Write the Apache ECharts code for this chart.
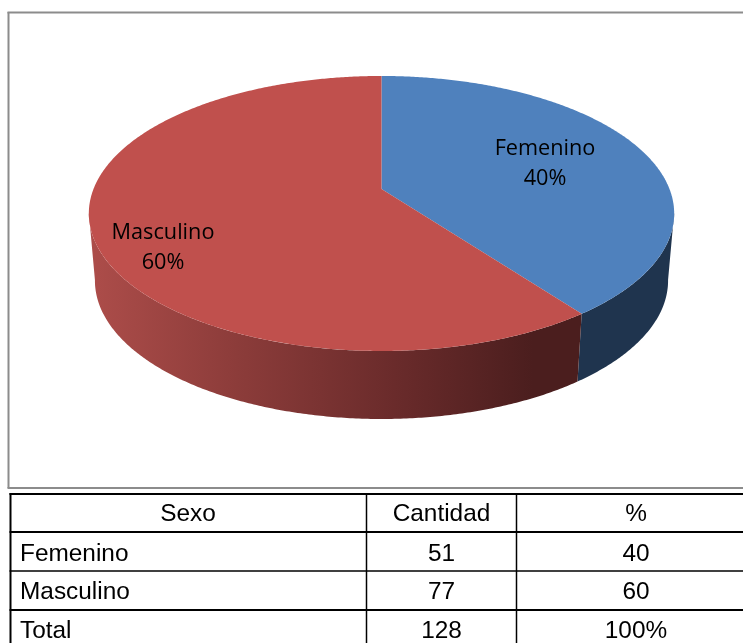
<!DOCTYPE html>
<html>
<head>
<meta charset="utf-8">
<style>html,body{margin:0;padding:0;background:#fff}#c{width:743px;height:643px}</style>
<script src="https://cdn.jsdelivr.net/npm/echarts@6/dist/echarts.min.js"></script>
</head>
<body>
<div id="c"></div>
<script>
const categories = ['Femenino', 'Masculino'];
const values = [51, 77];
const percents = [40, 60];
const total = '128';
const totalPct = '100%';
const headers = ['Sexo', 'Cantidad', '%'];

const topColors = ['#4F81BD', '#C0504D'];
const labelPos = [[545, 164], [163, 248]];

const chart = echarts.init(document.getElementById('c'), null, {renderer: 'canvas'});
const sum = values.reduce((a, b) => a + b, 0);
const D2R = Math.PI / 180;
const CX = 381.5, PERSP = 0.178;
const TOP = {R: 288, A: -99.5, B: 189};
const BOT = {R: 282, A: -88.4, B: 256};

function proj(f, deg) {
  const x = Math.sin(deg * D2R), y = Math.cos(deg * D2R);
  const d = 1 + PERSP * y;
  return [CX + f.R * x / d, (f.A * y + f.B) / d];
}
function arc(f, a, b) {
  const pts = [], n = Math.max(2, Math.ceil(Math.abs(b - a) * 2));
  for (let i = 0; i <= n; i++) pts.push(proj(f, a + (b - a) * i / n));
  return pts;
}
function range(i) {
  let s = 0;
  for (let k = 0; k < i; k++) s += values[k];
  return [s / sum * 360, (s + values[i]) / sum * 360];
}
const sideFill = [
  '#1F344E',
  {type: 'linear', global: true, x: 89, y: 0, x2: 582, y2: 0, colorStops: [
    {offset: 0, color: '#AD4D4A'},
    {offset: 0.3, color: '#8C3C3A'},
    {offset: 0.62, color: '#6A2B2B'},
    {offset: 0.9, color: '#4B1E1E'},
    {offset: 1, color: '#4B1E1E'}
  ]}
];

const seriesData = categories.map((c, i) => ({name: c, value: values[i]}));

const sideSeries = {
  type: 'custom', coordinateSystem: 'none', z: 2, silent: true, data: seriesData,
  renderItem(params) {
    const i = params.dataIndex, r = range(i);
    const a = Math.max(r[0], 100), b = Math.min(r[1], 260);
    const pts = arc(TOP, a, b).concat(arc(BOT, b, a));
    return {type: 'polygon', shape: {points: pts}, style: {fill: sideFill[i], stroke: null}};
  }
};
const topSeries = {
  type: 'custom', coordinateSystem: 'none', z: 3, silent: true, data: seriesData,
  renderItem(params) {
    const i = params.dataIndex, r = range(i);
    const pts = [[CX, TOP.B]].concat(arc(TOP, r[0], r[1]));
    return {
      type: 'group',
      children: [
        {type: 'polygon', shape: {points: pts}, style: {fill: topColors[i], stroke: null}},
        {type: 'text', z2: 10, style: {
          x: labelPos[i][0], y: labelPos[i][1],
          text: categories[i] + '\n' + percents[i] + '%',
          font: '21.7px "Open Sans"', lineHeight: 30,
          fill: '#000', align: 'center', verticalAlign: 'middle'
        }}
      ]
    };
  }
};

// frame + table
const G = [];
const line = (x1, y1, x2, y2, w, col) => G.push({type: 'line', z: 5, shape: {x1, y1, x2, y2}, style: {stroke: col || '#000', lineWidth: w}, silent: true});
const txt = (x, y, t, al) => G.push({type: 'text', z: 6, silent: true, style: {x, y, text: t, font: '24.4px "Liberation Sans"', fill: '#000', align: al, verticalAlign: 'middle'}});

const frameCol = '#8C8C8C';
line(8.5, 12, 8.5, 488, 2, frameCol);
line(7.5, 12.5, 743, 12.5, 2, frameCol);
line(7.5, 488, 743, 488, 2, frameCol);

const colX = [10.5, 366.5, 516.5];
const rowY = [494, 532, 571, 610];
const colMid = [188, 441.5, 636];
line(colX[0], 493, colX[0], 643, 2);
line(colX[1], 494, colX[1], 643, 1.5);
line(colX[2], 494, colX[2], 643, 1.5);
line(9.5, rowY[0], 743, rowY[0], 2);
line(9.5, rowY[1], 743, rowY[1], 2);
line(9.5, rowY[2], 743, rowY[2], 1.5);
line(9.5, rowY[3], 743, rowY[3], 2);

txt(colMid[0], 514, headers[0], 'center');
txt(colMid[1], 514, headers[1], 'center');
txt(colMid[2], 514, headers[2], 'center');
categories.forEach((c, i) => {
  const y = [554, 592][i];
  txt(20, y, c, 'left');
  txt(colMid[1], y, String(values[i]), 'center');
  txt(colMid[2], y, String(percents[i]), 'center');
});
txt(20, 631, 'Total', 'left');
txt(colMid[1], 631, total, 'center');
txt(colMid[2], 631, totalPct, 'center');

chart.setOption({
  animation: false,
  backgroundColor: '#fff',
  series: [sideSeries, topSeries],
  graphic: G
});
</script>
</body>
</html>
